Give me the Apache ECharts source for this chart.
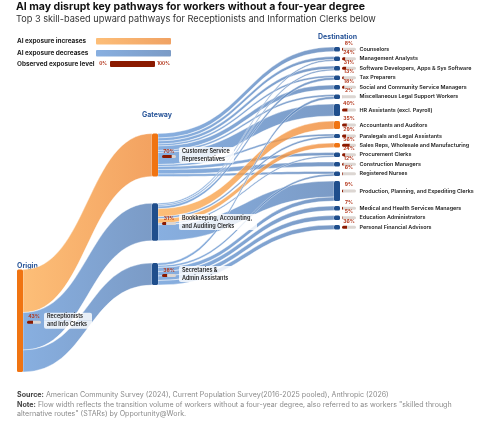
<!DOCTYPE html>
<html><head><meta charset="utf-8">
<script src="https://cdn.jsdelivr.net/npm/echarts@6/dist/echarts.min.js"></script>
<style>html,body{margin:0;padding:0;background:#fff}#c{width:483px;height:421px}</style>
</head><body><div id="c"></div>
<script>
// ---------------- DATA ----------------
const originName = 'Receptionists and Info Clerks';
const originLines = ['Receptionists', 'and Info Clerks'];
const originPct = 43;

const gatewayNames = ['Customer Service Representatives', 'Bookkeeping, Accounting, and Auditing Clerks', 'Secretaries & Admin Assistants'];
const gatewayLines = [['Customer Service', 'Representatives'], ['Bookkeeping, Accounting,', 'and Auditing Clerks'], ['Secretaries &', 'Admin Assistants']];
const gatewayPct = [70, 31, 38];

const destNames = ['Counselors', 'Management Analysts', 'Software Developers, Apps & Sys Software', 'Tax Preparers',
  'Social and Community Service Managers', 'Miscellaneous Legal Support Workers', 'HR Assistants (excl. Payroll)',
  'Accountants and Auditors', 'Paralegals and Legal Assistants', 'Sales Reps, Wholesale and Manufacturing',
  'Procurement Clerks', 'Construction Managers', 'Registered Nurses', 'Production, Planning, and Expediting Clerks',
  'Medical and Health Services Managers', 'Education Administrators', 'Personal Financial Advisors'];
const destPct = [8, 24, 31, 13, 18, 2, 40, 35, 29, 56, 24, 12, 6, 9, 7, 5, 36];

// flow volumes from each gateway to each destination (same order as destNames)
const csrFlows = [4.5, 3, 3, 2, 4.5, 2, 12, 0, 2, 0, 3, 4.5, 2.5, 0, 0, 0, 0];
const bkFlows  = [0, 1.5, 1.5, 2.5, 0, 0, 0, 8, 2, 4.5, 1.5, 0, 0, 16, 0, 0, 0];
const secFlows = [0, 0, 0, 0, 0, 2.5, 0, 0, 0, 0, 0, 0, 2, 4, 4.5, 4.5, 4.5];

const TITLE = 'AI may disrupt key pathways for workers without a four-year degree';
const SUBTITLE = 'Top 3 skill-based upward pathways for Receptionists and Information Clerks below';

// ---------------- LAYOUT / STYLE ----------------
const FONT = 'Inter';
const BOX = {left: 17, top: 47, width: 323, height: 182.5};
const NODE_GAP = 5, NODE_W = 6, BAR_W = 14;
const GATEWAY_X = 152, GATEWAY_CENTERS = [155, 222, 274], ORIGIN_BOTTOM = 372;
const ORANGE_NODE = '#F07412', BLUE_NODE = '#1F4E8C';
const RED_TEXT = '#B3361B', RED_BAR = '#8B1A00', TRACK = '#DCD6D2';
const BOX_BG = 'rgba(255,255,255,0.82)';
const grad = (c0, c1) => ({type: 'linear', x: 0, y: 0, x2: 1, y2: 0, colorStops: [{offset: 0, color: c0}, {offset: 1, color: c1}]});
const UP_LINK = grad('#FCAE56', '#F08B39');
const DOWN_LINK = grad('#6A9BD8', '#5A82B8');

const sum = a => a.reduce((s, v) => s + v, 0);
const gatewayFlows = [csrFlows, bkFlows, secFlows];
const gatewayTotals = gatewayFlows.map(sum);
const destTotals = destNames.map((_, i) => gatewayFlows.reduce((s, f) => s + f[i], 0));
const ky = (BOX.height - (destNames.length - 1) * NODE_GAP) / sum(destTotals);

const ctx = document.createElement('canvas').getContext('2d');
function measure(font, s) { ctx.font = font; return ctx.measureText(s).width; }
const BOX_FONT = '600 5.5px ' + FONT, PCT_FONT = '700 5px ' + FONT;

function pctStyle(pct, lh) {
  const tw = measure(PCT_FONT, pct + '%');
  const padL = Math.max(0, (BAR_W - tw) / 2);
  const padR = Math.max(0, BAR_W - tw - padL);
  return {fontSize: 5, fontWeight: 700, color: RED_TEXT, fontFamily: FONT, lineHeight: lh, padding: [0, padR, 0, padL]};
}
function barRich(pct, lh, va) {
  const f = BAR_W * pct / 100;
  return {
    fill: {width: f, height: 3, lineHeight: lh, verticalAlign: va, backgroundColor: RED_BAR, borderRadius: [1.5, 0, 0, 1.5]},
    rest: {width: BAR_W - f, height: 3, lineHeight: lh, verticalAlign: va, backgroundColor: TRACK, borderRadius: [0, 1.5, 1.5, 0]}
  };
}
function boxLabel(pct, lines, distance) {
  const w = Math.ceil(Math.max(...lines.map(l => measure(BOX_FONT, l)))) + 1;
  const boxStyle = {width: w, height: 8, lineHeight: 8, padding: [0, 3], backgroundColor: BOX_BG,
    fontSize: 5.5, fontWeight: 600, color: '#1a1a1a', fontFamily: FONT};
  return {
    show: true, position: 'right', distance,
    formatter: `{pct|${pct}%}{sp|}{bt|${lines[0]}}\n{fill|}{rest|}{sp|}{bb|${lines[1]}}`,
    rich: Object.assign(barRich(pct, 8, 'top'), {
      pct: pctStyle(pct, 8),
      sp: {width: 3, lineHeight: 1, fontSize: 1},
      bt: Object.assign({}, boxStyle, {borderRadius: [2, 2, 0, 0]}),
      bb: Object.assign({}, boxStyle, {borderRadius: [0, 0, 2, 2]})
    })
  };
}
function destLabel(pct, name) {
  return {
    show: true, position: 'right', distance: 2, offset: [0, -2.75],
    formatter: `{pct|${pct}%}\n{fill|}{rest|}{name|${name}}`,
    rich: Object.assign(barRich(pct, 7, 'middle'), {
      pct: pctStyle(pct, 5.5),
      name: {fontSize: 5.4, fontWeight: 600, color: '#1a1a1a', fontFamily: FONT, padding: [0, 0, 0, 3.5], lineHeight: 7}
    })
  };
}

// links
const links = [];
gatewayNames.forEach((g, gi) => {
  links.push({source: originName, target: g, value: gatewayTotals[gi], up: gatewayPct[gi] > originPct});
});
gatewayFlows.forEach((flows, gi) => {
  flows.forEach((v, di) => {
    if (v > 0) links.push({source: gatewayNames[gi], target: destNames[di], value: v, up: destPct[di] > gatewayPct[gi]});
  });
});
links.forEach(l => { l.lineStyle = {color: l.up ? UP_LINK : DOWN_LINK}; delete l.up; });

// nodes
const nodes = [];
const originUp = gatewayPct.some(p => p > originPct);
nodes.push({
  name: originName, depth: 0,
  localY: (ORIGIN_BOTTOM - sum(gatewayTotals) * ky - BOX.top) / BOX.height,
  itemStyle: {color: originUp ? ORANGE_NODE : BLUE_NODE},
  label: boxLabel(originPct, originLines, 4)
});
gatewayNames.forEach((g, gi) => {
  nodes.push({
    name: g, depth: 1,
    localX: (GATEWAY_X - BOX.left) / BOX.width,
    localY: (GATEWAY_CENTERS[gi] - gatewayTotals[gi] * ky / 2 - BOX.top) / BOX.height,
    itemStyle: {color: gatewayPct[gi] > originPct ? ORANGE_NODE : BLUE_NODE},
    label: boxLabel(gatewayPct[gi], gatewayLines[gi], 4)
  });
});
destNames.forEach((d, di) => {
  const up = gatewayFlows.some((f, gi) => f[di] > 0 && destPct[di] > gatewayPct[gi]);
  nodes.push({
    name: d, depth: 2,
    itemStyle: {color: up ? ORANGE_NODE : BLUE_NODE},
    label: destLabel(destPct[di], d)
  });
});

const chart = echarts.init(document.getElementById('c'), null, {renderer: 'canvas'});
const txt = (x, y, text, font, fill, extra) => ({type: 'text', silent: true,
  style: Object.assign({x, y, text, font, fill, verticalAlign: 'middle'}, extra || {})});
const boldRich = {b: {fontWeight: 'bold', fill: '#444', fontSize: 7.1, fontFamily: FONT}};

chart.setOption({
  animation: false,
  backgroundColor: '#fff',
  textStyle: {fontFamily: FONT},
  graphic: [
    txt(16, 6.5, TITLE, 'bold 10.5px ' + FONT, '#111'),
    txt(16, 19.5, SUBTITLE, '9.2px ' + FONT, '#333'),
    txt(17, 41, 'AI exposure increases', 'bold 6.4px ' + FONT, '#222'),
    {type: 'rect', silent: true, shape: {x: 96, y: 38, width: 75, height: 6.5, r: 1}, style: {fill: new echarts.graphic.LinearGradient(0, 0, 1, 0, [{offset: 0, color: '#FDBE78'}, {offset: 1, color: '#F0A263'}])}},
    txt(17, 53, 'AI exposure decreases', 'bold 6.4px ' + FONT, '#222'),
    {type: 'rect', silent: true, shape: {x: 96, y: 50, width: 75, height: 6.5, r: 1}, style: {fill: new echarts.graphic.LinearGradient(0, 0, 1, 0, [{offset: 0, color: '#88AFE0'}, {offset: 1, color: '#7B9BC6'}])}},
    txt(17, 64, 'Observed exposure level', 'bold 6.4px ' + FONT, '#222'),
    txt(107, 64, '0%', 'bold 4.6px ' + FONT, RED_TEXT, {align: 'right'}),
    {type: 'rect', silent: true, shape: {x: 110, y: 61, width: 45, height: 6, r: 1}, style: {fill: RED_BAR}},
    txt(157, 64, '100%', 'bold 4.6px ' + FONT, RED_TEXT),
    txt(318, 37, 'Destination', 'bold 7px ' + FONT, '#2B579A'),
    txt(142, 115, 'Gateway', 'bold 7px ' + FONT, '#2B579A'),
    txt(17, 266, 'Origin', 'bold 7px ' + FONT, '#2B579A'),
    txt(17, 395, '{b|Source:} American Community Survey (2024), Current Population Survey(2016-2025 pooled), Anthropic (2026)', '7.1px ' + FONT, '#8a8a8a', {rich: boldRich}),
    txt(17, 404.5, '{b|Note:} Flow width reflects the transition volume of workers without a four-year degree, also referred to as workers "skilled through', '7.1px ' + FONT, '#8a8a8a', {rich: boldRich}),
    txt(17, 413.5, 'alternative routes" (STARs) by Opportunity@Work.', '7.1px ' + FONT, '#8a8a8a')
  ],
  series: [{
    type: 'sankey',
    left: BOX.left, top: BOX.top, width: BOX.width, height: BOX.height,
    nodeWidth: NODE_W, nodeGap: NODE_GAP,
    layoutIterations: 0, nodeAlign: 'left', draggable: false,
    emphasis: {disabled: true},
    itemStyle: {borderWidth: 0, borderRadius: 1.5},
    lineStyle: {curveness: 0.5, opacity: 0.8, borderColor: '#fff', borderWidth: 0.5},
    label: {fontFamily: FONT, fontSize: 5, lineHeight: 5},
    data: nodes,
    links: links
  }]
});
</script></body></html>
